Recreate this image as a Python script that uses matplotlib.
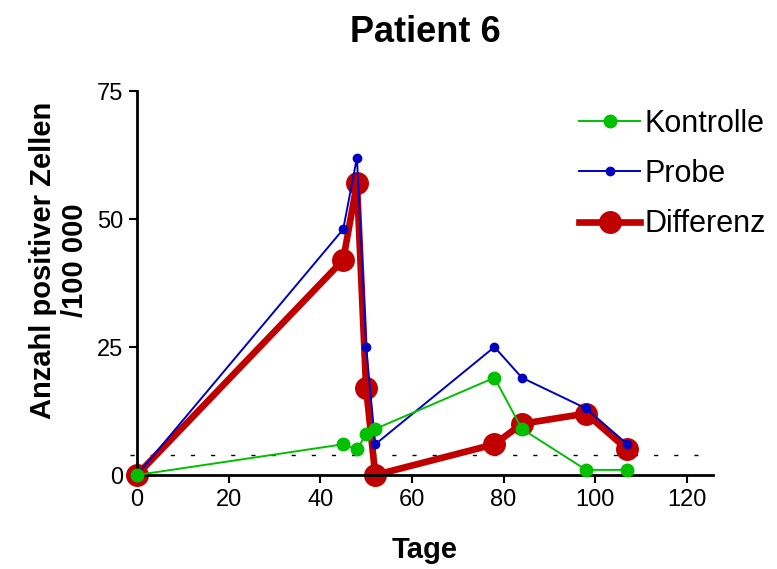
import matplotlib
matplotlib.use("Agg")
import matplotlib.pyplot as plt

plt.rcParams['font.family'] = ['Liberation Sans', 'DejaVu Sans']

days_k = [0, 45, 48, 50, 52, 78, 84, 98, 107]
kontrolle = [0, 6, 5, 8, 9, 19, 9, 1, 1]
days_p = [0, 45, 48, 50, 52, 78, 84, 98, 107]
probe = [0, 48, 62, 25, 6, 25, 19, 13, 6]
days_d = [0, 45, 48, 50, 52, 78, 84, 98, 107]
differenz = [0, 42, 57, 17, 0, 6, 10, 12, 5]
threshold = 4
xticks = [0, 20, 40, 60, 80, 100, 120]
yticks = [0, 25, 50, 75]

fig = plt.figure(figsize=(7.77, 5.69), dpi=100)
ax = fig.add_axes([137/777, 1-475/569, (713-137)/777, (475-91)/569])

ax.plot([-1.5, 125.7], [threshold, threshold], color='black', lw=1,
        dashes=(3, 11.5), zorder=1, clip_on=False)
l_d, = ax.plot(days_d, differenz, color='#c00000', lw=4.8, marker='o', ms=15.5,
               label='Differenz', zorder=2, clip_on=False)
l_p, = ax.plot(days_p, probe, color='#0000c0', lw=1.4, marker='o', ms=6,
               label='Probe', zorder=3, clip_on=False)
l_k, = ax.plot(days_k, kontrolle, color='#00c000', lw=1.4, marker='o', ms=9,
               label='Kontrolle', zorder=4, clip_on=False)

ax.set_xlim(0, 125.7)
ax.set_ylim(0, 75)
ax.set_xticks(xticks)
ax.set_yticks(yticks)
for s in ['top', 'right']:
    ax.spines[s].set_visible(False)
for s in ['left', 'bottom']:
    ax.spines[s].set_linewidth(2)
ax.tick_params(direction='out', length=6, width=1.5, labelsize=17, pad=4)

ax.set_xlabel('Tage', fontsize=21, fontweight='bold')
ax.xaxis.set_label_coords(0.5, -0.16)
ax.set_ylabel('Anzahl positiver Zellen\n/100 000', fontsize=21,
              fontweight='bold', linespacing=1.2)
ax.yaxis.set_label_coords(-0.083, 0.56)
fig.text(425/777, 1-32/569, 'Patient 6', fontsize=26, fontweight='bold',
         ha='center', va='center')

ax.legend(handles=[l_k, l_p, l_d], loc='upper left',
          bbox_to_anchor=(579/777, 1-109/569), bbox_transform=fig.transFigure,
          frameon=False, fontsize=22, labelspacing=0.66, handlelength=2.0,
          handletextpad=0.15, borderpad=0, borderaxespad=0)

fig.savefig('out.png', dpi=100)
